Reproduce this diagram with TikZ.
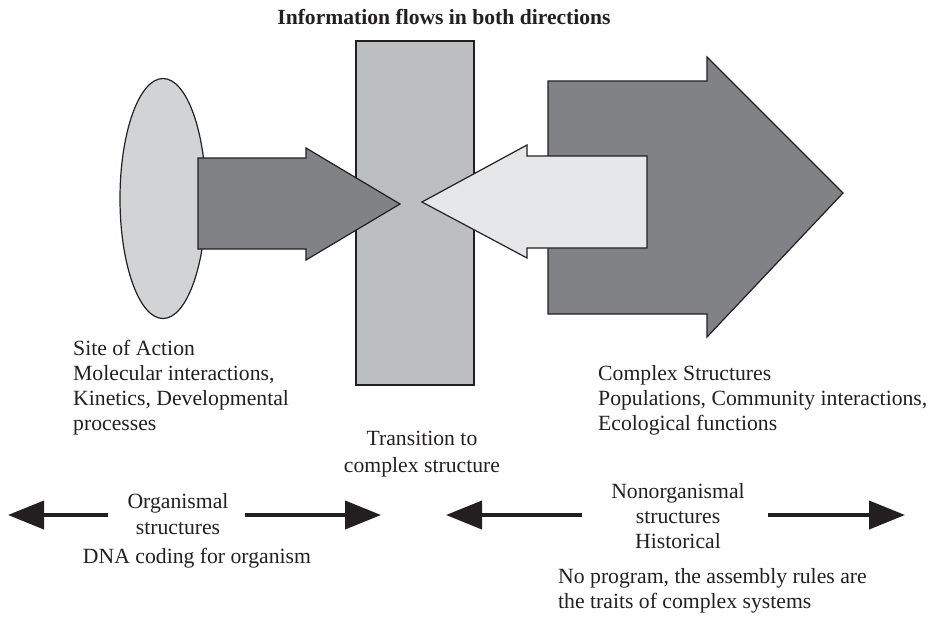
\documentclass[tikz,border=0pt]{standalone}
\usepackage{fontspec}
\setmainfont{Liberation Serif}
\usetikzlibrary{arrows.meta}
\definecolor{ink}{HTML}{231F20}
\definecolor{ovalgray}{HTML}{D1D3D4}
\definecolor{bargray}{HTML}{BCBEC0}
\definecolor{darkgray}{HTML}{808285}
\definecolor{palegray}{HTML}{E6E7E8}
\tikzset{
  outlined/.style={draw=ink, line width=1.2pt, line join=miter},
  lbl/.style={inner sep=0pt, text=ink, font=\fontsize{21.7}{25}\selectfont},
  ttl/.style={inner sep=0pt, text=ink, font=\bfseries\fontsize{21.6}{24}\selectfont},
  fatarrow/.style={draw=ink, line width=4pt, -{Triangle[length=36pt,width=28pt]}},
}
\begin{document}
\begin{tikzpicture}[x=1pt,y=-1pt]
\useasboundingbox (0,0) rectangle (941,616);

% title
\node[ttl, anchor=base] (title) at (444,24) {Information flows in both directions};

% site of action (oval)
\path[outlined, fill=ovalgray] (163,198.5) ellipse [x radius=43, y radius=120];

% transition bar
\path[outlined, fill=bargray] (356,41) rectangle (474,385);

% arrow from the site of action into the bar
\path[outlined, fill=darkgray]
  (198,158) -- (306,158) -- (306,148) -- (400,204) -- (306,260) -- (306,249) -- (198,249) -- cycle;

% large arrow for complex structures
\path[outlined, fill=darkgray]
  (548,81) -- (707,81) -- (707,57) -- (843,193) -- (707,337) -- (707,314) -- (548,314) -- cycle;

% arrow from complex structures back into the bar
\path[outlined, fill=palegray]
  (647,156) -- (527,156) -- (527,145) -- (422,202) -- (527,258) -- (527,248) -- (647,248) -- cycle;

% left block of text
\node[lbl, anchor=base west] (s1) at (73,355) {Site of Action};
\node[lbl, anchor=base west] (s2) at (73,380) {Molecular interactions,};
\node[lbl, anchor=base west] (s3) at (73,405) {Kinetics, Developmental};
\node[lbl, anchor=base west] (s4) at (73,430) {processes};

% right block of text
\node[lbl, anchor=base west] (c1) at (598,380) {Complex Structures};
\node[lbl, anchor=base west] (c2) at (598,405) {Populations, Community interactions,};
\node[lbl, anchor=base west] (c3) at (598,430) {Ecological functions};

% middle text
\node[lbl, anchor=base] (t1) at (422,445) {Transition to};
\node[lbl, anchor=base] (t2) at (422,472) {complex structure};

% organismal scale
\node[lbl, anchor=base] (o1) at (178,508) {Organismal};
\node[lbl, anchor=base] (o2) at (178,534) {structures};
\node[lbl, anchor=base] (o3) at (197,563) {DNA coding for organism};
\coordinate (oL0) at (108,515);
\coordinate (oL1) at (8,515);
\coordinate (oR0) at (245,515);
\coordinate (oR1) at (381,515);
\draw[fatarrow] (oL0) -- (oL1);
\draw[fatarrow] (oR0) -- (oR1);

% nonorganismal scale
\node[lbl, anchor=base] (n1) at (678,498) {Nonorganismal};
\node[lbl, anchor=base] (n2) at (678,523) {structures};
\node[lbl, anchor=base] (n3) at (678,548) {Historical};
\node[lbl, anchor=base west] (p1) at (558,583) {No program, the assembly rules are};
\node[lbl, anchor=base west] (p2) at (558,608) {the traits of complex systems};
\coordinate (nL0) at (582,515);
\coordinate (nL1) at (446,515);
\coordinate (nR0) at (768,515);
\coordinate (nR1) at (905,515);
\draw[fatarrow] (nL0) -- (nL1);
\draw[fatarrow] (nR0) -- (nR1);
\end{tikzpicture}
\end{document}
